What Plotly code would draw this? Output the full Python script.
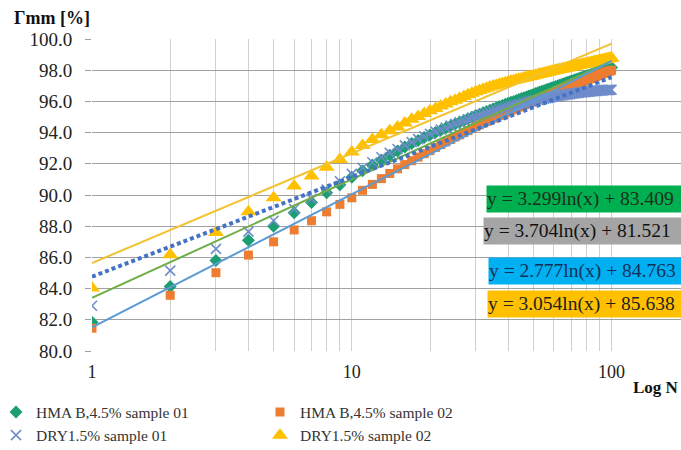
import plotly.graph_objects as go
import numpy as np

N = list(range(1, 101))

hma_s01 = [81.84, 84.14, 85.80, 87.10, 88.00, 88.86, 89.52, 90.14, 90.66, 91.13,
           91.55, 91.92, 92.25, 92.55, 92.82, 93.07, 93.30, 93.50, 93.68, 93.85,
           94.00, 94.15, 94.29, 94.42, 94.55, 94.67, 94.78, 94.89, 94.99, 95.09,
           95.18, 95.27, 95.36, 95.44, 95.52, 95.60, 95.67, 95.74, 95.81, 95.88,
           95.94, 96.00, 96.06, 96.12, 96.18, 96.24, 96.29, 96.35, 96.40, 96.45,
           96.50, 96.55, 96.60, 96.65, 96.69, 96.74, 96.78, 96.83, 96.87, 96.91,
           96.95, 96.99, 97.03, 97.07, 97.11, 97.15, 97.19, 97.22, 97.26, 97.30,
           97.33, 97.37, 97.40, 97.43, 97.47, 97.50, 97.53, 97.56, 97.59, 97.62,
           97.65, 97.68, 97.71, 97.74, 97.77, 97.80, 97.83, 97.86, 97.88, 97.91,
           97.94, 97.97, 97.99, 98.02, 98.04, 98.07, 98.10, 98.12, 98.15, 98.17]

hma_s02 = [81.46, 83.57, 85.02, 86.15, 87.00, 87.76, 88.35, 88.92, 89.40, 89.82,
           90.30, 90.68, 91.05, 91.38, 91.68, 91.95, 92.20, 92.43, 92.65, 92.85,
           93.05, 93.23, 93.40, 93.56, 93.72, 93.86, 94.00, 94.13, 94.26, 94.38,
           94.50, 94.61, 94.72, 94.82, 94.92, 95.01, 95.10, 95.19, 95.27, 95.35,
           95.43, 95.50, 95.57, 95.64, 95.71, 95.78, 95.84, 95.90, 95.96, 96.02,
           96.08, 96.13, 96.19, 96.24, 96.29, 96.34, 96.39, 96.44, 96.49, 96.54,
           96.58, 96.63, 96.67, 96.72, 96.76, 96.80, 96.85, 96.89, 96.93, 96.97,
           97.01, 97.05, 97.09, 97.13, 97.17, 97.21, 97.25, 97.29, 97.33, 97.37,
           97.40, 97.44, 97.48, 97.51, 97.55, 97.58, 97.62, 97.65, 97.68, 97.71,
           97.74, 97.77, 97.80, 97.83, 97.86, 97.89, 97.92, 97.94, 97.97, 98.00]

dry_s01 = [82.90, 85.15, 86.55, 87.65, 88.35, 89.10, 89.75, 90.35, 90.88, 91.35,
           91.75, 92.10, 92.42, 92.70, 92.95, 93.18, 93.39, 93.58, 93.76, 93.92,
           94.06, 94.20, 94.33, 94.45, 94.56, 94.66, 94.76, 94.85, 94.94, 95.02,
           95.10, 95.17, 95.24, 95.31, 95.37, 95.43, 95.49, 95.54, 95.59, 95.64,
           95.69, 95.73, 95.77, 95.81, 95.85, 95.89, 95.93, 95.96, 96.00, 96.03,
           96.06, 96.09, 96.12, 96.15, 96.18, 96.20, 96.23, 96.25, 96.28, 96.30,
           96.32, 96.34, 96.36, 96.38, 96.40, 96.42, 96.44, 96.45, 96.47, 96.49,
           96.50, 96.52, 96.53, 96.54, 96.56, 96.57, 96.58, 96.59, 96.60, 96.61,
           96.62, 96.63, 96.64, 96.65, 96.66, 96.67, 96.67, 96.68, 96.69, 96.70,
           96.70, 96.71, 96.72, 96.72, 96.73, 96.73, 96.74, 96.74, 96.75, 96.75]

dry_s02 = [84.04, 86.17, 87.60, 88.92, 89.82, 90.58, 91.22, 91.78, 92.27, 92.75,
           93.18, 93.55, 93.87, 94.12, 94.36, 94.62, 94.85, 95.04, 95.22, 95.40,
           95.55, 95.70, 95.84, 95.97, 96.08, 96.20, 96.31, 96.42, 96.52, 96.62,
           96.70, 96.78, 96.85, 96.92, 96.98, 97.04, 97.10, 97.15, 97.20, 97.25,
           97.30, 97.34, 97.38, 97.42, 97.46, 97.50, 97.54, 97.58, 97.61, 97.65,
           97.68, 97.72, 97.75, 97.78, 97.81, 97.84, 97.87, 97.90, 97.93, 97.96,
           97.99, 98.01, 98.04, 98.06, 98.09, 98.11, 98.14, 98.16, 98.18, 98.21,
           98.23, 98.25, 98.27, 98.30, 98.32, 98.34, 98.36, 98.38, 98.40, 98.42,
           98.44, 98.46, 98.48, 98.50, 98.52, 98.54, 98.55, 98.57, 98.59, 98.61,
           98.63, 98.65, 98.66, 98.68, 98.70, 98.71, 98.73, 98.75, 98.76, 98.78]

series_names = ["HMA B,4.5% sample 01", "HMA B,4.5% sample 02",
                "DRY1.5% sample 01", "DRY1.5% sample 02"]

# trendline coefficients y = a*ln(x) + b (as displayed)
trend_a = [3.299, 3.704, 2.777, 3.054]
trend_b = [83.409, 81.521, 84.763, 85.638]
trend_labels = ["y = 3.299ln(x) + 83.409", "y = 3.704ln(x) + 81.521",
                "y = 2.777ln(x) + 84.763", "y = 3.054ln(x) + 85.638"]

y_ticks = [80.0, 82.0, 84.0, 86.0, 88.0, 90.0, 92.0, 94.0, 96.0, 98.0, 100.0]
x_grid = [1, 2, 3, 4, 5, 6, 7, 8, 9, 10, 20, 30, 40, 50, 60, 70, 80, 90, 100]
x_labels = {1: "1", 10: "10", 100: "100"}

SERIF = "Liberation Serif, Times New Roman, serif"

fig = go.Figure()

marker_styles = [
    dict(symbol="diamond", size=10, color="#1B9E72"),
    dict(symbol="square", size=9, color="#ED7D31"),
    dict(symbol="x-thin-open", size=10, color="#6F8CCB", line=dict(width=1.6, color="#6F8CCB")),
    dict(symbol="triangle-up", size=14, color="#FFC000"),
]
data = [hma_s01, hma_s02, dry_s01, dry_s02]

for name, ys, ms in zip(series_names, data, marker_styles):
    fig.add_trace(go.Scatter(x=N, y=ys, mode="markers", name=name, marker=ms,
                             showlegend=True))

trend_styles = [
    dict(color="#70AD47", width=2),
    dict(color="#5B9BD5", width=2),
    dict(color="#4472C4", width=4, dash="4px,3px"),
    dict(color="#F2C230", width=2),
]
xt = np.array(N, dtype=float)
for a, b, ls in zip(trend_a, trend_b, trend_styles):
    fig.add_trace(go.Scatter(x=xt, y=a * np.log(xt) + b, mode="lines",
                             line=ls, showlegend=False, hoverinfo="skip"))

# equation boxes
box_colors = ["#00B050", "#A5A5A5", "#00B0F0", "#FFC000"]
box_text_colors = ["#1c2e1c", "#111111", "#10305a", "#222222"]
box_x_px = [486, 483, 488, 487]
box_y_px = [199, 231, 271, 304]
L, T, PW, PH = 92, 39, 589, 312.5
for txt, bc, tc, bx, by in zip(trend_labels, box_colors, box_text_colors, box_x_px, box_y_px):
    fig.add_annotation(xref="paper", yref="paper",
                       x=(bx - L) / PW, y=1 - (by - T) / PH,
                       xanchor="left", yanchor="middle", showarrow=False,
                       text=txt, align="left", width=198, height=26,
                       bgcolor=bc, borderpad=0,
                       font=dict(family=SERIF, size=19.5, color=tc))

fig.add_annotation(xref="paper", yref="paper", x=(12 - L) / PW, y=1 + (T - 18) / PH,
                   xanchor="left", yanchor="middle", showarrow=False,
                   text="<b>Γmm [%]</b>", font=dict(family=SERIF, size=18, color="#111"))
fig.add_annotation(xref="paper", yref="paper", x=1.0, y=-(388 - T - PH) / PH,
                   xanchor="right", yanchor="middle", showarrow=False,
                   text="<b>Log N</b>", font=dict(family=SERIF, size=17, color="#111"))

fig.update_layout(
    width=681, height=450,
    margin=dict(l=L, r=0, t=T, b=450 - T - PH, autoexpand=False),
    paper_bgcolor="white", plot_bgcolor="white",
    font=dict(family=SERIF, size=18, color="#222"),
    xaxis=dict(type="log", range=[0, np.log10(185)],
               tickvals=x_grid, ticktext=[x_labels.get(v, "") for v in x_grid],
               showgrid=True, gridcolor="#D0D0D0", gridwidth=1.3,
               zeroline=False, showline=False, ticks="", automargin=False,
               ticklabelstandoff=8,
               tickfont=dict(family=SERIF, size=18, color="#222")),
    yaxis=dict(range=[80, 100], tickvals=y_ticks,
               ticktext=[f"{v:.1f}" for v in y_ticks],
               showgrid=True, gridcolor="#A0A0A0", gridwidth=1.3,
               zeroline=False, showline=False, automargin=False,
               ticks="outside", ticklen=6, tickcolor="#A0A0A0", tickwidth=1.3,
               ticklabelstandoff=9,
               tickfont=dict(family=SERIF, size=19, color="#222")),
    legend=dict(orientation="h", x=-(L + 4) / PW, xanchor="left",
                y=-(396 - T - PH) / PH, yanchor="top",
                entrywidth=219, entrywidthmode="pixels",
                font=dict(family=SERIF, size=15.5, color="#333"),
                bgcolor="rgba(0,0,0,0)"),
)

fig.write_html("out.html", config={"displayModeBar": False},
               post_script="document.body.style.margin='0px';")
